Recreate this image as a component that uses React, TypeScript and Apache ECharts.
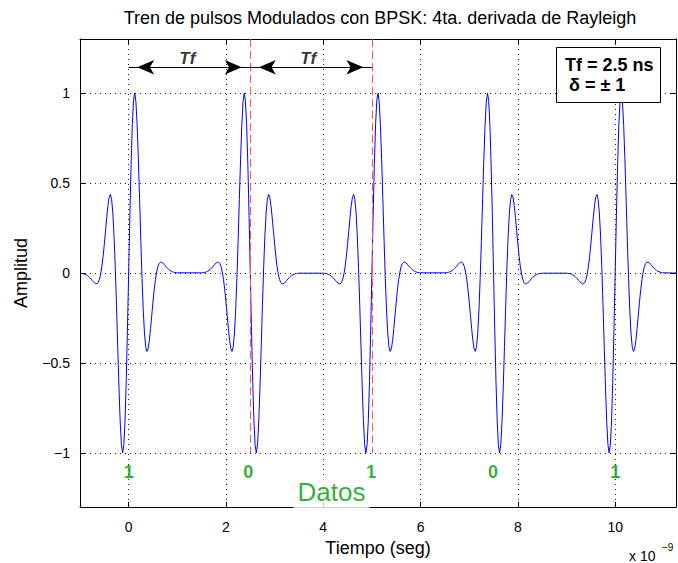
import React, { useEffect, useRef } from 'react';
import * as echarts from 'echarts';

// ---- data ----
const bits = [1, 0, 1, 0, 1];
const bitLabels = ['1', '0', '1', '0', '1'];
const Tf = 2.5; // ns (axis in units of 1e-9 s)
const pulseStart = -1.0; // ns, first sample of a pulse relative to its centre
const pulseStep = 0.025; // ns between samples
// one pulse (bit = 1), amplitude, from -1.0 ns to +1.0 ns
const pulseShape = [
  -0.001, -0.002, -0.003, -0.004, -0.007, -0.01, -0.014, -0.019, -0.026, -0.033,
  -0.041, -0.049, -0.056, -0.06, -0.06, -0.052, -0.035, -0.005, 0.037, 0.093,
  0.16, 0.235, 0.309, 0.375, 0.421, 0.436, 0.409, 0.333, 0.205, 0.031,
  -0.18, -0.408, -0.629, -0.818, -0.949, -1.0, -0.958, -0.823, -0.602, -0.318,
  0,
  0.318, 0.602, 0.823, 0.958, 1.0, 0.949, 0.818, 0.629, 0.408, 0.18,
  -0.031, -0.205, -0.333, -0.409, -0.436, -0.421, -0.375, -0.309, -0.235, -0.16,
  -0.093, -0.037, 0.005, 0.035, 0.052, 0.06, 0.06, 0.056, 0.049, 0.041,
  0.033, 0.026, 0.019, 0.014, 0.01, 0.007, 0.004, 0.003, 0.002, 0.001,
];
const xMin = -1;
const xMax = 11.25;
const yMin = -1.3;
const yMax = 1.3;
const xTicks = [0, 2, 4, 6, 8, 10];
const yTicks = [-1, -0.5, 0, 0.5, 1];
const bitLabelX = [0, 2.46, 4.98, 7.49, 10];
const bitLabelY = -1.108;
const arrowSpans = [
  [0, 2.5],
  [2.5, 5],
];
const arrowY = 1.143;
const tfLabelX = [1.207, 3.69];
const tfLabelY = 1.189;
const dashedX = [2.5, 5];
const dashedTop = 1.3;
const dashedBottom = -1.0;
const datosPos = [4.17, -1.215];

const FONT = "'Liberation Sans', Arial, Helvetica, sans-serif";

function buildSignal(): number[][] {
  const pts: number[][] = [];
  bits.forEach((b, k) => {
    const s = b === 1 ? 1 : -1;
    pulseShape.forEach((v, i) => {
      pts.push([k * Tf + pulseStart + i * pulseStep, s * v]);
    });
  });
  pts.push([xMax, 0]);
  return pts;
}

const fmtY = (v: number) => (v < 0 ? '\u2212' + Math.abs(v) : String(v));

export default function App() {
  const ref = useRef<HTMLDivElement>(null);
  useEffect(() => {
    if (!ref.current) return;
    const chart = echarts.init(ref.current, undefined, { renderer: 'svg' });
    const axisLineStyle = { color: '#000', width: 1 };
    const gridLine = { show: true, lineStyle: { type: [1, 4], color: '#222', width: 1 } };
    const option: any = {
      animation: false,
      backgroundColor: '#fff',
      grid: { left: 80, right: 2, top: 39, bottom: 56 },
      xAxis: [
        {
          type: 'value',
          min: xMin,
          max: xMax,
          position: 'bottom',
          name: 'Tiempo (seg)',
          nameLocation: 'middle',
          nameGap: 29,
          nameTextStyle: { fontSize: 18, color: '#000', fontFamily: FONT },
          axisLine: { show: true, onZero: false, lineStyle: axisLineStyle },
          axisTick: { show: true, inside: true, length: 5, customValues: xTicks, lineStyle: axisLineStyle },
          axisLabel: {
            show: true,
            customValues: xTicks,
            margin: 13,
            fontSize: 14,
            color: '#000',
            fontFamily: FONT,
            formatter: (v: number) => String(v),
          },
          splitLine: gridLine,
        },
        {
          type: 'value',
          min: xMin,
          max: xMax,
          position: 'top',
          axisLine: { show: true, onZero: false, lineStyle: axisLineStyle },
          axisTick: { show: true, inside: true, length: 5, customValues: xTicks, lineStyle: axisLineStyle },
          axisLabel: { show: false },
          splitLine: { show: false },
        },
      ],
      yAxis: [
        {
          type: 'value',
          min: yMin,
          max: yMax,
          position: 'left',
          name: 'Amplitud',
          nameLocation: 'middle',
          nameRotate: 90,
          nameGap: 50,
          nameTextStyle: { fontSize: 18, color: '#000', fontFamily: FONT },
          axisLine: { show: true, onZero: false, lineStyle: axisLineStyle },
          axisTick: { show: true, inside: true, length: 5, customValues: yTicks, lineStyle: axisLineStyle },
          axisLabel: {
            show: true,
            customValues: yTicks,
            margin: 10,
            fontSize: 14,
            color: '#000',
            fontFamily: FONT,
            formatter: fmtY,
          },
          splitLine: gridLine,
        },
        {
          type: 'value',
          min: yMin,
          max: yMax,
          position: 'right',
          axisLine: { show: true, onZero: false, lineStyle: axisLineStyle },
          axisTick: { show: true, inside: true, length: 5, customValues: yTicks, lineStyle: axisLineStyle },
          axisLabel: { show: false },
          splitLine: { show: false },
        },
      ],
      series: [
        {
          type: 'line',
          name: 'pulsos',
          data: buildSignal(),
          showSymbol: false,
          symbol: 'none',
          smooth: false,
          lineStyle: { color: '#0000ff', width: 1 },
          z: 3,
          silent: true,
          markLine: {
            silent: true,
            animation: false,
            symbol: 'none',
            symbolOffset: [
              [0, '50%'],
              [0, '50%'],
            ],
            label: { show: false },
            emphasis: { disabled: true },
            data: [
              ...dashedX.map((x) => [
                { coord: [x, dashedTop], symbol: 'none', lineStyle: { color: '#ff5555', type: [8, 4], width: 1 } },
                { coord: [x, dashedBottom], symbol: 'none', lineStyle: { color: '#ff5555', type: [8, 4], width: 1 } },
              ]),
              ...arrowSpans.map(([a, b]) => [
                {
                  coord: [a, arrowY],
                  symbol: 'arrow',
                  symbolSize: [11, 17],
                  lineStyle: { color: '#000', type: 'solid', width: 1 },
                  itemStyle: { color: '#000' },
                },
                {
                  coord: [b, arrowY],
                  symbol: 'arrow',
                  symbolSize: [11, 17],
                  lineStyle: { color: '#000', type: 'solid', width: 1 },
                  itemStyle: { color: '#000' },
                },
              ]),
            ],
          },
        },
        {
          type: 'scatter',
          name: 'bits',
          silent: true,
          symbolSize: 1,
          itemStyle: { color: 'rgba(0,0,0,0)' },
          data: bitLabelX.map((x, i) => [x, bitLabelY, bitLabels[i]]),
          label: {
            show: true,
            position: 'inside',
            formatter: (p: any) => p.value[2],
            color: '#009900',
            fontSize: 18,
            fontWeight: 'bold',
            fontFamily: FONT,
          },
          z: 5,
        },
        {
          type: 'scatter',
          name: 'tf',
          silent: true,
          symbolSize: 1,
          itemStyle: { color: 'rgba(0,0,0,0)' },
          data: tfLabelX.map((x) => [x, tfLabelY, 'Tf']),
          label: {
            show: true,
            position: 'inside',
            formatter: (p: any) => p.value[2],
            color: '#000',
            fontSize: 17,
            fontWeight: 'bold',
            fontStyle: 'italic',
            fontFamily: FONT,
          },
          z: 5,
        },
        {
          type: 'scatter',
          name: 'datos',
          silent: true,
          symbolSize: 1,
          itemStyle: { color: 'rgba(0,0,0,0)' },
          data: [[datosPos[0], datosPos[1], 'Datos']],
          label: {
            show: true,
            position: 'inside',
            formatter: (p: any) => p.value[2],
            color: '#009900',
            fontSize: 26,
            fontFamily: FONT,
            backgroundColor: '#fff',
            padding: [3, 4, 4, 4],
            lineHeight: 26,
          },
          z: 6,
        },
      ],
      graphic: [
        {
          type: 'text',
          x: 380,
          y: 9,
          z: 10,
          style: {
            text: 'Tren de pulsos Modulados con BPSK: 4ta. derivada de Rayleigh',
            fontSize: 18,
            fontFamily: FONT,
            fill: '#000',
            align: 'center',
            verticalAlign: 'top',
          },
        },
        {
          type: 'rect',
          z: 100,
          shape: { x: 556.5, y: 47.5, width: 104, height: 55 },
          style: { fill: '#fff', stroke: '#000', lineWidth: 1 },
        },
        {
          type: 'text',
          z: 101,
          x: 565,
          y: 64.5,
          style: {
            text: 'Tf = 2.5 ns',
            fontSize: 18,
            fontWeight: 'bold',
            fontFamily: FONT,
            fill: '#000',
            align: 'left',
            verticalAlign: 'middle',
          },
        },
        {
          type: 'text',
          z: 101,
          x: 569,
          y: 85,
          style: {
            text: '\u03b4 = \u00b1 1',
            fontSize: 18,
            fontWeight: 'bold',
            fontFamily: FONT,
            fill: '#000',
            align: 'left',
            verticalAlign: 'middle',
          },
        },
        {
          type: 'text',
          z: 10,
          x: 629,
          y: 549,
          style: { text: 'x 10', fontSize: 14, fontFamily: FONT, fill: '#000', align: 'left', verticalAlign: 'top' },
        },
        {
          type: 'text',
          z: 10,
          x: 662,
          y: 542,
          style: { text: '\u22129', fontSize: 10, fontFamily: FONT, fill: '#000', align: 'left', verticalAlign: 'top' },
        },
      ],
    };
    chart.setOption(option);
    return () => chart.dispose();
  }, []);
  return <div ref={ref} style={{ position: 'absolute', left: 0, top: 0, width: 678, height: 563 }} />;
}
